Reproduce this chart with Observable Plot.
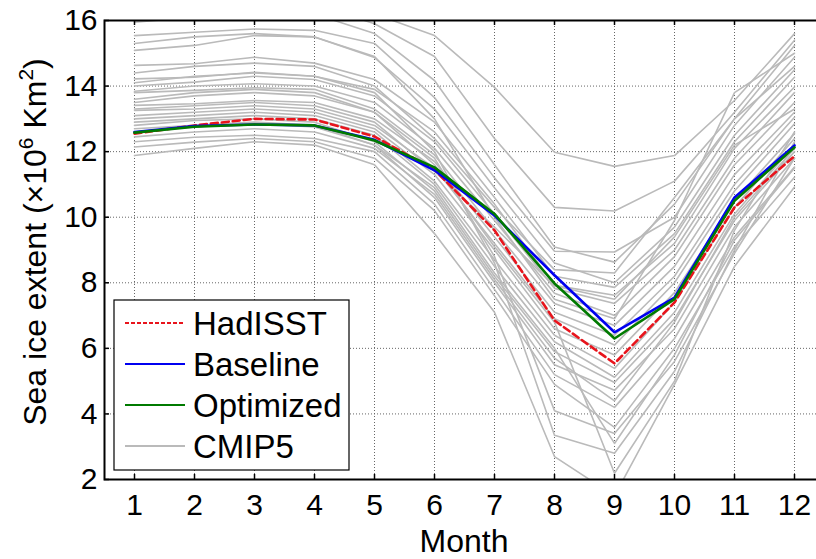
<!DOCTYPE html>
<html>
<head>
<meta charset="utf-8">
<script src="https://cdn.jsdelivr.net/npm/d3@7"></script>
<script src="https://cdn.jsdelivr.net/npm/@observablehq/plot@0.6"></script>
<style>
  html, body { margin: 0; padding: 0; background: white; overflow: hidden; }
  #chart { width: 816px; height: 559px; }
</style>
</head>
<body>
<div id="chart"></div>
<script>
const months = [1, 2, 3, 4, 5, 6, 7, 8, 9, 10, 11, 12];
const yTicks = [2, 4, 6, 8, 10, 12, 14, 16];

const hadisst   = [12.55, 12.8, 13.0, 12.98, 12.46, 11.45, 9.6, 6.85, 5.54, 7.4, 10.3, 11.86];
const baseline  = [12.6, 12.78, 12.83, 12.8, 12.36, 11.43, 10.05, 8.23, 6.49, 7.55, 10.6, 12.19];
const optimized = [12.58, 12.76, 12.83, 12.8, 12.34, 11.52, 10.1, 7.98, 6.3, 7.5, 10.5, 12.13];

const cmip5 = [
  [16.5, 16.7, 16.8, 16.7, 16.2, 15.54, 13.96, 11.98, 11.55, 11.88, 13.56, 15.6],
  [16.2, 16.4, 16.5, 16.5, 15.9, 14.9, 12.4, 10.3, 10.19, 11.1, 13.2, 15.4],
  [15.95, 16.1, 16.2, 16.2, 15.6, 14.17, 11.6, 9.09, 8.63, 10.4, 13.0, 15.24],
  [15.54, 15.64, 15.74, 15.7, 15.3, 13.65, 11.2, 8.96, 8.94, 10.0, 12.8, 14.88],
  [15.09, 15.24, 15.54, 15.5, 14.87, 13.3, 10.9, 8.6, 8.0, 9.7, 12.5, 14.5],
  [14.63, 14.68, 14.88, 14.7, 14.2, 12.9, 10.6, 8.2, 7.86, 9.5, 12.3, 14.27],
  [14.22, 14.27, 14.42, 14.3, 13.9, 12.6, 10.4, 7.92, 7.62, 9.2, 12.1, 13.97],
  [14.0, 14.12, 14.3, 14.2, 13.7, 12.3, 10.1, 7.83, 7.37, 9.0, 11.8, 13.8],
  [13.84, 14.0, 14.07, 14.0, 13.5, 12.1, 9.9, 7.68, 7.0, 8.8, 11.6, 13.5],
  [13.8, 13.87, 13.95, 13.9, 13.3, 11.9, 9.6, 7.37, 6.7, 8.5, 11.3, 13.2],
  [13.41, 13.46, 13.56, 13.5, 13.0, 11.7, 9.4, 7.1, 6.4, 8.2, 11.0, 13.05],
  [13.26, 13.3, 13.4, 13.3, 12.8, 11.5, 9.2, 6.9, 6.1, 8.0, 10.8, 12.85],
  [13.1, 13.2, 13.3, 13.2, 12.7, 11.3, 9.0, 6.6, 5.8, 7.7, 10.5, 12.55],
  [13.0, 13.1, 13.2, 13.1, 12.6, 11.1, 8.7, 6.4, 5.39, 7.4, 10.3, 12.4],
  [12.9, 13.0, 13.1, 13.0, 12.5, 11.0, 8.5, 6.2, 5.12, 7.1, 10.1, 12.2],
  [12.8, 12.95, 13.0, 12.9, 12.3, 10.8, 8.2, 5.9, 4.96, 6.9, 9.9, 12.0],
  [12.7, 12.8, 12.9, 12.8, 12.2, 10.6, 8.0, 5.5, 4.72, 6.6, 9.7, 11.8],
  [12.3, 12.44, 12.5, 12.4, 12.0, 10.4, 7.8, 5.2, 4.2, 6.3, 9.4, 11.53],
  [12.14, 12.29, 12.4, 12.3, 11.8, 10.2, 7.6, 4.9, 3.59, 6.0, 9.1, 11.22],
  [11.88, 12.1, 12.3, 12.2, 11.6, 9.5, 7.1, 2.7, 1.5, 4.9, 8.5, 10.92],
  [13.5, 13.7, 13.8, 13.7, 13.2, 11.8, 8.8, 4.1, 3.4, 5.6, 8.9, 11.8],
  [14.1, 14.3, 14.4, 14.3, 13.8, 12.0, 8.6, 3.35, 2.8, 5.3, 9.0, 12.3],
  [12.6, 12.75, 12.85, 12.75, 12.2, 10.9, 8.3, 6.0, 3.1, 5.8, 9.3, 11.5],
  [13.6, 13.8, 13.9, 13.8, 13.2, 11.6, 9.1, 6.8, 2.19, 5.0, 9.6, 12.6],
  [15.3, 15.5, 15.6, 15.5, 14.9, 13.0, 10.0, 7.5, 6.9, 9.9, 13.8, 15.0],
  [14.4, 14.6, 14.7, 14.6, 14.0, 12.4, 10.3, 8.4, 8.3, 10.6, 13.0, 14.6],
  [13.3, 13.4, 13.5, 13.4, 12.9, 11.4, 9.7, 7.9, 7.5, 9.4, 12.2, 13.3],
  [12.45, 12.6, 12.7, 12.6, 12.1, 10.7, 8.1, 5.7, 4.4, 6.8, 10.0, 12.1]
];

const legendLabels = ["HadISST", "Baseline", "Optimized", "CMIP5"];
const xLabel = "Month";

const toRows = (arr) => arr.map((v, j) => ({month: months[j], value: v}));
const cmipRows = cmip5.flatMap((s, i) => s.map((v, j) => ({model: i, month: months[j], value: v})));

const chart = Plot.plot({
  width: 816,
  height: 559,
  marginLeft: 104,
  marginRight: -8,
  marginTop: 20,
  marginBottom: 80,
  x: {domain: [0.5, 12.5], label: null},
  y: {domain: [2, 16], label: null},
  style: {fontFamily: "'Liberation Sans', Arial, sans-serif", background: "white", overflow: "visible"},
  marks: [
    Plot.ruleX(months, {x: d => d, stroke: "#666", strokeDasharray: "1,2", strokeWidth: 1}),
    Plot.ruleY(yTicks, {y: d => d, stroke: "#666", strokeDasharray: "1,2", strokeWidth: 1}),
    Plot.lineY(cmipRows, {x: "month", y: "value", z: "model", stroke: "#bababa", strokeWidth: 1.6, clip: true}),
    Plot.lineY(toRows(hadisst), {x: "month", y: "value", stroke: "#e8141c", strokeWidth: 2.6, strokeDasharray: "7,4"}),
    Plot.lineY(toRows(baseline), {x: "month", y: "value", stroke: "#0000f0", strokeWidth: 2.6}),
    Plot.lineY(toRows(optimized), {x: "month", y: "value", stroke: "#007a00", strokeWidth: 2.6}),
    Plot.tickX(months, {x: d => d, insetBottom: 454, stroke: "black", strokeWidth: 1.5}),
    Plot.tickX(months, {x: d => d, insetTop: 454, stroke: "black", strokeWidth: 1.5}),
    Plot.tickY(yTicks, {y: d => d, insetRight: 715, stroke: "black", strokeWidth: 1.5}),
    Plot.frame({stroke: "black", strokeWidth: 2}),
    Plot.axisX(months, {tickSize: 0, tickPadding: 14, fontSize: 30, label: null, fill: "black"}),
    Plot.axisY(yTicks, {tickSize: 0, tickPadding: 7, fontSize: 30, label: null, fill: "black"})
  ]
});

document.getElementById("chart").appendChild(chart);

const svg = d3.select(chart);
const font = "'Liberation Sans', Arial, sans-serif";

// Y axis label
const yl = svg.append("text")
  .attr("transform", "translate(46,242) rotate(-90)")
  .attr("text-anchor", "middle")
  .attr("font-size", 32)
  .attr("font-family", font)
  .attr("fill", "black");
yl.append("tspan").text("Sea ice extent (\u00d710");
yl.append("tspan").attr("font-size", 21).attr("dy", -13).text("6");
yl.append("tspan").attr("dy", 13).text(" Km");
yl.append("tspan").attr("font-size", 21).attr("dy", -13).text("2");
yl.append("tspan").attr("dy", 13).text(")");

// X axis label
svg.append("text")
  .attr("x", 464).attr("y", 552)
  .attr("text-anchor", "middle")
  .attr("font-size", 32)
  .attr("font-family", font)
  .attr("fill", "black")
  .text(xLabel);

// Legend
const lg = svg.append("g");
lg.append("rect").attr("x", 114).attr("y", 300).attr("width", 235).attr("height", 170)
  .attr("fill", "white").attr("stroke", "black").attr("stroke-width", 1.2);
const styles = [
  {stroke: "#e8141c", dash: "4,2"},
  {stroke: "#0000f0", dash: null},
  {stroke: "#007a00", dash: null},
  {stroke: "#bababa", dash: null}
];
legendLabels.forEach((lab, i) => {
  const cy = 323 + i * 41;
  const l = lg.append("line").attr("x1", 125).attr("x2", 185).attr("y1", cy).attr("y2", cy)
    .attr("stroke", styles[i].stroke).attr("stroke-width", 2);
  if (styles[i].dash) l.attr("stroke-dasharray", styles[i].dash);
  lg.append("text").attr("x", 193).attr("y", cy + 12)
    .attr("text-anchor", "start")
    .attr("font-size", 33).attr("font-family", font).attr("fill", "black").text(lab);
});
</script>
</body>
</html>
